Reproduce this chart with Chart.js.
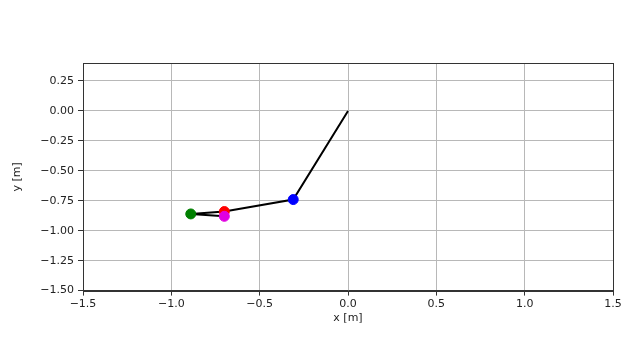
<!DOCTYPE html>
<html lang="en">
<head>
    <meta charset="UTF-8">
    <title>Arm pose</title>
    <script src="https://cdn.jsdelivr.net/npm/chart.js"></script>
    <style>
        html, body { margin: 0; padding: 0; background: #fff; }
        canvas { display: block; }
    </style>
</head>
<body>
    <canvas id="chart" width="640" height="360"></canvas>

<script>
    // link chain: origin -> blue -> red -> green -> magenta
    const linkX = [0, -0.31, -0.70, -0.89, -0.70];
    const linkY = [0, -0.74, -0.84, -0.86, -0.88];

    // joint markers
    const jointX = [-0.31, -0.70, -0.70, -0.89];
    const jointY = [-0.74, -0.84, -0.88, -0.86];
    const jointColors = ["#0000ff", "#ff0000", "#e000e0", "#008000"];

    const xTicks = [-1.5, -1.0, -0.5, 0.0, 0.5, 1.0, 1.5];
    const yTicks = [-1.5, -1.25, -1.0, -0.75, -0.5, -0.25, 0.0, 0.25];

    const fmt = (v, d) => (v < 0 ? "\u2212" : "") + Math.abs(v).toFixed(d);

    const frame = {
        id: "frame",
        afterDraw(chart) {
            const a = chart.chartArea, ctx = chart.ctx;
            ctx.save();
            ctx.strokeStyle = "#333";
            ctx.lineWidth = 1;
            ctx.strokeRect(Math.round(a.left) + 0.5, Math.round(a.top) + 0.5,
                Math.round(a.right - a.left), Math.round(a.bottom - a.top));
            ctx.restore();
        }
    };

    Chart.defaults.font.family = "'DejaVu Sans', sans-serif";
    Chart.defaults.font.size = 11;
    Chart.defaults.color = "#222";

    new Chart(document.getElementById("chart").getContext("2d"), {
        type: "scatter",
        data: {
            datasets: [
                {
                    type: "line",
                    data: linkX.map((x, i) => ({ x: x, y: linkY[i] })),
                    borderColor: "#000",
                    borderWidth: 2,
                    pointRadius: 0,
                    tension: 0,
                    order: 2
                },
                {
                    data: jointX.map((x, i) => ({ x: x, y: jointY[i] })),
                    backgroundColor: jointColors,
                    borderColor: jointColors,
                    pointRadius: 5,
                    order: 1
                }
            ]
        },
        options: {
            responsive: false,
            animation: false,
            layout: { padding: { top: 63, right: 27, left: 11, bottom: 35 } },
            plugins: { legend: { display: false }, tooltip: { enabled: false } },
            scales: {
                x: {
                    min: -1.5, max: 1.5,
                    afterBuildTicks: s => { s.ticks = xTicks.map(v => ({ value: v })); },
                    ticks: { callback: v => fmt(v, 1), padding: 2, maxRotation: 0 },
                    grid: { color: "#b8b8b8", tickColor: "#333", tickLength: 5 },
                    border: { color: "#333" },
                    title: { display: true, text: "x [m]", padding: { top: -1, bottom: 0 } }
                },
                y: {
                    min: -1.5, max: 0.4,
                    afterBuildTicks: s => { s.ticks = yTicks.map(v => ({ value: v })); },
                    afterFit: s => { s.width = 72; },
                    ticks: { callback: v => fmt(v, 2), padding: 4 },
                    grid: { color: "#b8b8b8", tickColor: "#333", tickLength: 5 },
                    border: { color: "#333" },
                    title: { display: true, text: "y [m]", padding: { top: 0, bottom: 0 } }
                }
            }
        },
        plugins: [frame]
    });
</script>
</body>
</html>
